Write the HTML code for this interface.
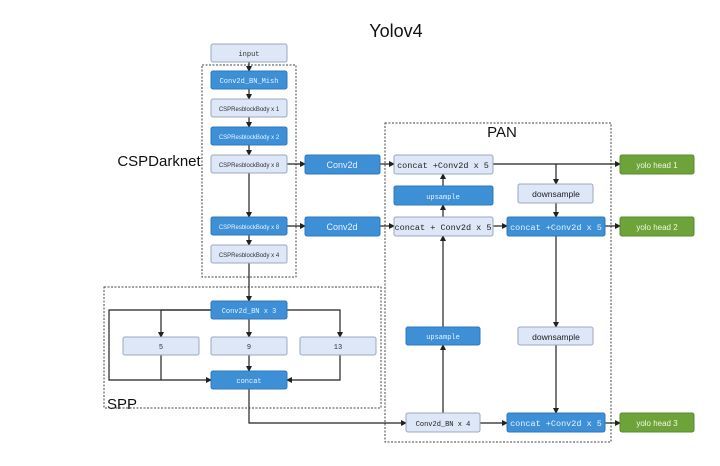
<!DOCTYPE html>
<html><head><style>
body{margin:0;background:#fff}
svg{display:block}
.m{font-family:"Liberation Mono",monospace}
.s{font-family:"Liberation Sans",sans-serif}
</style></head><body>
<svg width="720" height="466" viewBox="0 0 720 466" xmlns="http://www.w3.org/2000/svg">
<defs><marker id="a" markerWidth="6" markerHeight="6" refX="5" refY="3" orient="auto" markerUnits="userSpaceOnUse"><path d="M0,0L6,3L0,6z" fill="#222"/></marker></defs>
<rect width="720" height="466" fill="#fff"/>
<text x="396" y="37" text-anchor="middle" class="s" font-size="18" fill="#111">Yolov4</text>
<text x="159" y="166" text-anchor="middle" class="s" font-size="15" fill="#111">CSPDarknet</text>
<text x="502" y="137" text-anchor="middle" class="s" font-size="15" fill="#111">PAN</text>
<text x="107" y="409" class="s" font-size="15" fill="#111">SPP</text>
<g fill="none" stroke="#444" stroke-dasharray="2,1.5" stroke-width="1">
<rect x="202" y="65" width="94" height="212"/>
<rect x="385" y="123" width="226" height="319"/>
<rect x="104" y="287" width="277" height="121"/>
</g>
<g stroke="#222" stroke-width="1.2" fill="none" marker-end="url(#a)">
<path d="M249 62V71"/><path d="M249 89V99"/><path d="M249 117V127"/><path d="M249 145V155"/>
<path d="M249 173V217"/><path d="M249 235V245"/><path d="M249 263V301"/>
<path d="M287 164H305"/><path d="M287 226H305"/>
<path d="M380 164H394"/><path d="M380 226H394"/>
<path d="M211 310H109V380H211"/>
<path d="M211 310H161V337"/><path d="M249 319V337"/><path d="M287 310H340V337"/>
<path d="M249 355V371"/><path d="M340 355V380H287"/>
<path d="M249 389V423H406"/>
<path d="M443 413V345"/><path d="M443 327V236"/><path d="M443 217V205"/><path d="M443 186V174"/>
<path d="M493 164H620"/><path d="M556 164V184"/><path d="M556 203V217"/>
<path d="M493 226H507"/><path d="M605 226H620"/>
<path d="M556 236V327"/><path d="M556 345V413"/>
<path d="M480 423H507"/><path d="M605 423H620"/>
</g>
<path d="M161 355V380" stroke="#222" stroke-width="1.2"/>
<g stroke-width="1">
<g fill="#dde7f7" stroke="#9aa8bd">
<rect x="211" y="44" width="76" height="18" rx="2"/>
<rect x="211" y="99" width="76" height="18" rx="2"/>
<rect x="211" y="155" width="76" height="18" rx="2"/>
<rect x="211" y="245" width="76" height="18" rx="2"/>
<rect x="394" y="155" width="99" height="19" rx="2"/>
<rect x="394" y="217" width="99" height="19" rx="2"/>
<rect x="518" y="184" width="75" height="19" rx="2"/>
<rect x="518" y="327" width="75" height="18" rx="2"/>
<rect x="406" y="413" width="74" height="19" rx="2"/>
<rect x="123" y="337" width="76" height="18" rx="2"/>
<rect x="211" y="337" width="76" height="18" rx="2"/>
<rect x="300" y="337" width="76" height="18" rx="2"/>
</g>
<g fill="#3d8fd6" stroke="#2f78bb">
<rect x="211" y="71" width="76" height="18" rx="2"/>
<rect x="211" y="127" width="76" height="18" rx="2"/>
<rect x="211" y="217" width="76" height="18" rx="2"/>
<rect x="305" y="155" width="75" height="19" rx="2"/>
<rect x="305" y="217" width="75" height="19" rx="2"/>
<rect x="394" y="186" width="99" height="19" rx="2"/>
<rect x="507" y="217" width="98" height="19" rx="2"/>
<rect x="406" y="327" width="74" height="18" rx="2"/>
<rect x="507" y="413" width="98" height="19" rx="2"/>
<rect x="211" y="301" width="76" height="18" rx="2"/>
<rect x="211" y="371" width="76" height="18" rx="2"/>
</g>
<g fill="#6ea33a" stroke="#5a8a2c">
<rect x="620" y="155" width="74" height="19" rx="2"/>
<rect x="620" y="217" width="74" height="19" rx="2"/>
<rect x="620" y="413" width="74" height="19" rx="2"/>
</g>
</g>
<g text-anchor="middle" font-size="7">
<text x="249" y="56" class="m" fill="#333">input</text>
<text x="249" y="83" class="m" fill="#eaf2ff">Conv2d_BN_Mish</text>
<text x="249" y="111" class="s" fill="#333" font-size="6">CSPResblockBody x 1</text>
<text x="249" y="139" class="s" fill="#eaf2ff" font-size="6">CSPResblockBody x 2</text>
<text x="249" y="167" class="s" fill="#333" font-size="6">CSPResblockBody x 8</text>
<text x="249" y="229" class="s" fill="#eaf2ff" font-size="6">CSPResblockBody x 8</text>
<text x="249" y="257" class="s" fill="#333" font-size="6">CSPResblockBody x 4</text>
<text x="342" y="168" class="s" fill="#eaf2ff" font-size="9">Conv2d</text>
<text x="342" y="230" class="s" fill="#eaf2ff" font-size="9">Conv2d</text>
<text x="443" y="168" class="m" fill="#222" font-size="8.5">concat +Conv2d x 5</text>
<text x="443" y="199" class="m" fill="#eaf2ff">upsample</text>
<text x="443" y="230" class="m" fill="#222" font-size="8.5">concat + Conv2d x 5</text>
<text x="556" y="197" class="s" fill="#222" font-size="8.5">downsample</text>
<text x="556" y="230" class="m" fill="#eaf2ff" font-size="8.5">concat +Conv2d x 5</text>
<text x="443" y="339" class="m" fill="#eaf2ff">upsample</text>
<text x="556" y="340" class="s" fill="#222" font-size="8.5">downsample</text>
<text x="443" y="426" class="m" fill="#222">Conv2d_BN x  4</text>
<text x="556" y="426" class="m" fill="#eaf2ff" font-size="8.5">concat +Conv2d x 5</text>
<text x="657" y="168" class="s" fill="#f0f7e6" font-size="8">yolo head 1</text>
<text x="657" y="230" class="s" fill="#f0f7e6" font-size="8">yolo head 2</text>
<text x="657" y="426" class="s" fill="#f0f7e6" font-size="8">yolo head 3</text>
<text x="249" y="313" class="m" fill="#eaf2ff">Conv2d_BN x  3</text>
<text x="161" y="349" class="m" fill="#333">5</text>
<text x="249" y="349" class="m" fill="#333">9</text>
<text x="338" y="349" class="m" fill="#333">13</text>
<text x="249" y="383" class="m" fill="#eaf2ff">concat</text>
</g>
</svg>
</body></html>
